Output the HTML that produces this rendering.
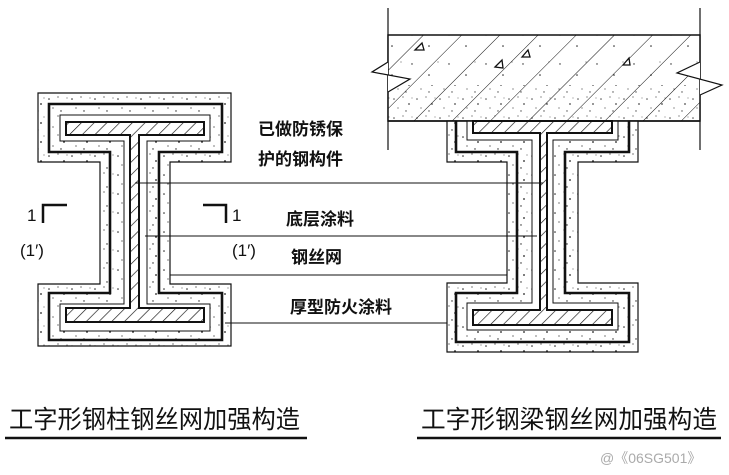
<!DOCTYPE html>
<html><head><meta charset="utf-8"><style>
html,body{margin:0;padding:0;background:#fff;}
svg{display:block;}
text{font-family:"Liberation Sans","Noto Sans CJK SC",sans-serif;fill:#111;}
</style></head><body>
<svg width="729" height="475" viewBox="0 0 729 475" xmlns="http://www.w3.org/2000/svg">
<defs>
<pattern id="dots" width="23" height="19" patternUnits="userSpaceOnUse">
<rect width="23" height="19" fill="#fff"/>
<circle cx="3" cy="4" r="0.8" fill="#222"/><circle cx="12" cy="2" r="0.6" fill="#222"/>
<circle cx="18" cy="9" r="0.9" fill="#222"/><circle cx="7" cy="13" r="0.6" fill="#222"/>
<circle cx="15" cy="16" r="0.7" fill="#222"/><circle cx="21" cy="3" r="0.5" fill="#222"/>
</pattern>
<pattern id="sdots" width="37" height="29" patternUnits="userSpaceOnUse">
<circle cx="5" cy="6" r="0.7" fill="#222"/><circle cx="22" cy="17" r="0.8" fill="#222"/>
<circle cx="31" cy="4" r="0.5" fill="#222"/>
</pattern>
<pattern id="hatch" width="9" height="9" patternUnits="userSpaceOnUse" patternTransform="rotate(45)">
<rect width="9" height="9" fill="#fff"/><line x1="0" y1="0" x2="0" y2="9" stroke="#111" stroke-width="1.3"/>
</pattern>
<pattern id="slab" width="27" height="27" patternUnits="userSpaceOnUse" patternTransform="rotate(45)">
<line x1="0" y1="0" x2="0" y2="27" stroke="#111" stroke-width="1"/>
</pattern>
</defs>

<!-- Left column -->
<polygon points="38,93 231,93 231,162 170,162 170,284 231,284 231,346 38,346 38,284 100,284 100,162 38,162" fill="url(#dots)" stroke="#111" stroke-width="1.2"/>
<polygon points="49,104 222,104 222,152 159,152 159,293 222,293 222,340 49,340 49,293 110,293 110,152 49,152" fill="none" stroke="#111" stroke-width="2.6"/>
<polygon points="60,115 210,115 210,141 147,141 147,304 210,304 210,331 60,331 60,304 124,304 124,141 60,141" fill="#fff" stroke="#111" stroke-width="1"/>
<polygon points="66,122 204,122 204,135 139,135 139,308 204,308 204,322 66,322 66,308 130,308 130,135 66,135" fill="url(#hatch)" stroke="#111" stroke-width="2"/>

<!-- Slab -->
<line x1="388" y1="8" x2="388" y2="150" stroke="#111" stroke-width="1.2"/>
<line x1="700" y1="8" x2="700" y2="150" stroke="#111" stroke-width="1.2"/>
<rect x="388" y="35" width="312" height="86" fill="#fff"/>
<rect x="388" y="85" width="312" height="36" fill="url(#dots)" opacity="0.8"/>
<rect x="388" y="35" width="312" height="50" fill="url(#sdots)"/>
<rect x="388" y="35" width="312" height="86" fill="url(#slab)" stroke="#111" stroke-width="1.5"/>
<polyline points="388,62 372,72 410,79 388,92" fill="#fff" stroke="#111" stroke-width="1.2"/>
<polyline points="700,62 677,73 722,85 700,95" fill="#fff" stroke="#111" stroke-width="1.2"/>
<polygon points="415,50 422,43 424,50" fill="none" stroke="#111" stroke-width="1.3"/>
<polygon points="522,57 528,50 530,57" fill="none" stroke="#111" stroke-width="1.3"/>
<polygon points="495,67 502,60 503,68" fill="none" stroke="#111" stroke-width="1.3"/>
<polygon points="623,65 629,58 630,65" fill="none" stroke="#111" stroke-width="1.3"/>

<!-- Right beam -->
<polygon points="447,121 638,121 638,162 578,162 578,283 638,283 638,352 447,352 447,283 507,283 507,162 447,162" fill="url(#dots)" stroke="#111" stroke-width="1.2"/>
<path d="M456,121 V152 H517 V293 H456 V342 H629 V293 H565 V152 H629 V121" fill="none" stroke="#111" stroke-width="2.6"/>
<path d="M467,121 V140 H532 V303 H467 V330 H618 V303 H553 V140 H618 V121 Z" fill="#fff" stroke="#111" stroke-width="1"/>
<polygon points="473,121 612,121 612,133 547,133 547,310 612,310 612,325 473,325 473,310 540,310 540,133 473,133" fill="url(#hatch)" stroke="#111" stroke-width="2"/>
<line x1="388" y1="121" x2="700" y2="121" stroke="#111" stroke-width="1.5"/>

<!-- Leaders -->
<g stroke="#111" stroke-width="1">
<line x1="135" y1="183" x2="543" y2="183"/>
<line x1="145" y1="236" x2="537" y2="236"/>
<line x1="170" y1="275" x2="507" y2="275"/>
<line x1="225" y1="323" x2="447" y2="323"/>
</g>

<!-- Section marks -->
<g stroke="#111" stroke-width="2.5" fill="none">
<polyline points="67,205 43,205 43,223"/>
<polyline points="203,205 226,205 226,223"/>
</g>
<text x="27" y="221" font-size="17">1</text>
<text x="20" y="256" font-size="17">(1′)</text>
<text x="232" y="221" font-size="17">1</text>
<text x="232" y="256" font-size="17">(1′)</text>

<!-- Labels -->
<g font-size="17" style="font-weight:bold">
<text x="258" y="135">已做防锈保</text>
<text x="258" y="165">护的钢构件</text>
<text x="286" y="225">底层涂料</text>
<text x="291" y="263">钢丝网</text>
<text x="290" y="313">厚型防火涂料</text>
</g>

<!-- Titles -->
<text x="9" y="428" font-size="25" textLength="291" lengthAdjust="spacingAndGlyphs">工字形钢柱钢丝网加强构造</text>
<line x1="5" y1="438" x2="307" y2="438" stroke="#111" stroke-width="2.5"/>
<text x="421" y="428" font-size="25" textLength="296" lengthAdjust="spacingAndGlyphs">工字形钢梁钢丝网加强构造</text>
<line x1="417" y1="438" x2="721" y2="438" stroke="#111" stroke-width="2.5"/>
<text x="600" y="463" font-size="14" style="fill:#aaa">@《06SG501》</text>
</svg>
</body></html>
